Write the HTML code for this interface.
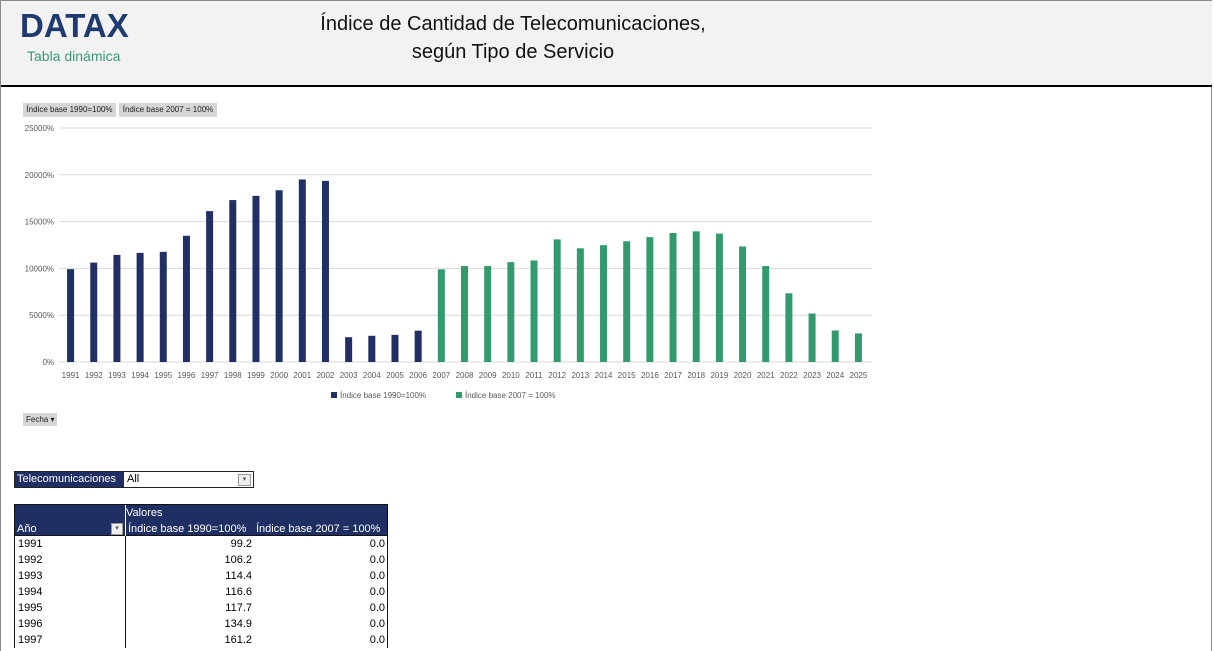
<!DOCTYPE html>
<html><head><meta charset="utf-8">
<style>
body{margin:0;width:1214px;height:651px;overflow:hidden;background:#fff;font-family:"Liberation Sans",sans-serif;position:relative}
#frame{position:absolute;left:0;top:0;width:1212px;height:651px;border:1px solid #8a8a8a;border-bottom:none;box-sizing:border-box}
#header{position:absolute;left:1px;top:1px;width:1211px;height:84px;background:#f2f2f2;border-bottom:2px solid #000}
.abs{position:absolute}
</style></head><body>
<div id="frame"></div>
<div id="header">
  <div class="abs" style="left:19px;top:6px;font-size:33px;font-weight:bold;color:#1f3a6e">DATAX</div>
  <div class="abs" style="left:26px;top:47px;font-size:14px;color:#3a9a78">Tabla dinámica</div>
  <div class="abs" style="left:262px;top:9px;width:500px;text-align:center;font-size:20px;line-height:28px;color:#111">Índice de Cantidad de Telecomunicaciones,<br>según Tipo de Servicio</div>
</div>
<div class="abs" style="left:23px;top:103px;width:93px;height:14px;background:#d6d6d6;font-size:8px;line-height:14px;color:#222;text-align:center;white-space:nowrap">Índice base 1990=100%</div>
<div class="abs" style="left:119px;top:103px;width:98px;height:14px;background:#d6d6d6;font-size:8px;line-height:14px;color:#222;text-align:center;white-space:nowrap">Índice base 2007 = 100%</div>
<div class="abs" style="left:23px;top:413px;height:13px;padding:0 3px;background:#d6d6d6;font-size:8px;line-height:13px;color:#222">Fecha ▾</div>
<svg id="chart" class="abs" style="left:0;top:0" width="1214" height="651"></svg>

<div class="abs" style="left:14px;top:471px;width:240px;height:17px;border:1px solid #222;box-sizing:border-box;font-size:11px;line-height:15px">
  <span style="position:absolute;left:0;top:0;width:107px;height:15px;background:#1f2f63;color:#fff;padding-left:2px">Telecomunicaciones</span>
  <span style="position:absolute;left:112px;top:0;color:#000">All</span>
  <span style="position:absolute;right:2px;top:2px;width:11px;height:10px;border:1px solid #999;background:#eee;font-size:7px;line-height:10px;text-align:center;color:#555">▾</span>
</div>
<div class="abs" style="left:14px;top:504px;width:374px;font-size:11px">
  <div style="position:relative;height:32px;background:#1f2f63;color:#fff;border:1px solid #111;box-sizing:border-box">
    <span class="abs" style="left:111px;top:2px">Valores</span>
    <span class="abs" style="left:2px;top:18px">Año</span>
    <span class="abs" style="left:96px;top:18px;width:10px;height:10px;background:#eee;border:1px solid #999;color:#555;font-size:7px;line-height:10px;text-align:center">▾</span>
    <span class="abs" style="left:110px;top:0;width:1px;height:32px;background:#fff"></span>
    <span class="abs" style="left:113px;top:18px">Índice base 1990=100%</span>
    <span class="abs" style="left:241px;top:18px">Índice base 2007 = 100%</span>
  </div>
  <div id="rows"></div>
</div>
<script>
const years=[1991,1992,1993,1994,1995,1996,1997,1998,1999,2000,2001,2002,2003,2004,2005,2006,2007,2008,2009,2010,2011,2012,2013,2014,2015,2016,2017,2018,2019,2020,2021,2022,2023,2024,2025];
const base1990=[9920,10620,11440,11660,11770,13490,16120,17300,17750,18350,19500,19350,2650,2800,2900,3350,0,0,0,0,0,0,0,0,0,0,0,0,0,0,0,0,0,0,0];
const base2007=[0,0,0,0,0,0,0,0,0,0,0,0,0,0,0,0,9900,10250,10250,10670,10850,13100,12150,12480,12900,13340,13780,13960,13720,12340,10250,7340,5180,3370,3050];
const yTicks=[0,5000,10000,15000,20000,25000];
const yTickLabels=["0%","5000%","10000%","15000%","20000%","25000%"];
const tableYears=[1991,1992,1993,1994,1995,1996,1997];
const table1990=["99.2","106.2","114.4","116.6","117.7","134.9","161.2"];
const table2007=["0.0","0.0","0.0","0.0","0.0","0.0","0.0"];

const NS="http://www.w3.org/2000/svg";
const svg=document.getElementById('chart');
const x0=59,x1=870,y0=362,yTop=128,yMax=25000;
const band=(x1-x0)/years.length;
const yS=v=>y0-(v/yMax)*(y0-yTop);
const xS=i=>x0+band*(i+0.5);
function mk(tag,attrs){const e=document.createElementNS(NS,tag);for(const k in attrs)e.setAttribute(k,attrs[k]);svg.appendChild(e);return e;}
yTicks.forEach((t,i)=>{
  const g=mk('line',{x1:x0,x2:872,y1:yS(t),y2:yS(t),stroke:'#d9d9d9','stroke-width':1});
  
  
  const tx=mk('text',{x:54,y:yS(t)+3,'text-anchor':'end','font-size':8,fill:'#595959','font-family':'Liberation Sans, sans-serif'});
  tx.textContent=yTickLabels[i];
  
  
});
const bw=7;
years.forEach((yr,i)=>{
  if(base1990[i]>0){
    const r=mk('rect',{x:xS(i)-bw/2,y:yS(base1990[i]),width:bw,height:y0-yS(base1990[i]),fill:'#203064'});
    
    
  }
  if(base2007[i]>0){
    const r=mk('rect',{x:xS(i)-bw/2,y:yS(base2007[i]),width:bw,height:y0-yS(base2007[i]),fill:'#339a6e'});
    
    
  }
  const t=mk('text',{x:xS(i),y:378,'text-anchor':'middle','font-size':8,fill:'#595959','font-family':'Liberation Sans, sans-serif'});
  t.textContent=yr;
  
  
});
[[331,'#203064','Índice base 1990=100%'],[456,'#339a6e','Índice base 2007 = 100%']].forEach(([lx,c,l],k)=>{
  const s=mk('rect',{x:lx,y:392,width:6,height:6,fill:c});
  
  
  const t=mk('text',{x:lx+9,y:398,'font-size':8,fill:'#595959','font-family':'Liberation Sans, sans-serif'});
  t.textContent=l;
  
  
});
const rows=document.getElementById('rows');
tableYears.forEach((y,i)=>{
  const d=document.createElement('div');
  
  
  d.style.cssText='position:relative;height:16px;line-height:16px;border-left:1px solid #111;border-right:1px solid #111';
  d.innerHTML='<span style="position:absolute;left:3px">'+y+'</span><span style="position:absolute;left:110px;top:0;width:1px;height:16px;background:#111"></span><span style="position:absolute;right:135px">'+table1990[i]+'</span><span style="position:absolute;right:2px">'+table2007[i]+'</span>';
  rows.appendChild(d);
});
</script>
</body></html>
